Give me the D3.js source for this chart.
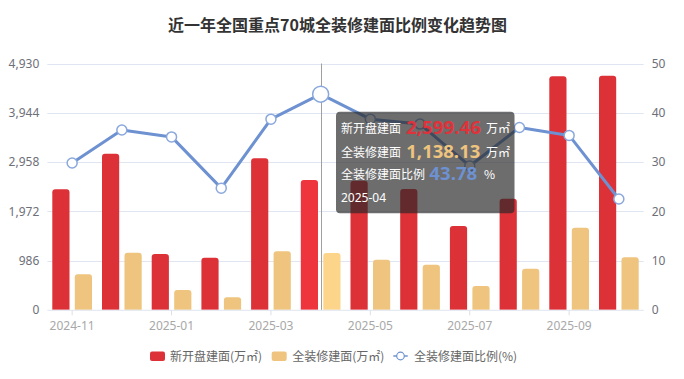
<!DOCTYPE html>
<html><head><meta charset="utf-8">
<script src="https://cdn.jsdelivr.net/npm/d3@7/dist/d3.min.js"></script>
<style>
html,body{margin:0;padding:0;background:#fff;}
svg{display:block;font-family:"Noto Sans CJK SC","Noto Sans",sans-serif;}
</style></head>
<body><svg id="c" width="684" height="379"></svg>
<script>
const title = "近一年全国重点70城全装修建面比例变化趋势图";
const months = ["2024-11","2024-12","2025-01","2025-02","2025-03","2025-04","2025-05","2025-06","2025-07","2025-08","2025-09","2025-10"];
const newArea = [2412, 3125, 1117, 1043, 3033, 2599.46, 2585, 2418, 1678, 2224, 4675, 4687];
const decoArea = [711, 1143, 396, 250, 1171, 1138.13, 1003, 903, 476, 823, 1644, 1051];
const ratio = [29.8, 36.5, 35.1, 24.7, 38.7, 43.78, 38.7, 37.7, 29.2, 37.0, 35.4, 22.5];
const leftTicks = [0, 986, 1972, 2958, 3944, 4930];
const rightTicks = [0, 10, 20, 30, 40, 50];
const xLabelMonths = ["2024-11","2025-01","2025-03","2025-05","2025-07","2025-09"];
const seriesNames = ["新开盘建面(万㎡)", "全装修建面(万㎡)", "全装修建面比例(%)"];
const hoverIndex = 5;

const svg = d3.select("#c");
const L = 47.3, R = 643.7, T = 63.5, B = 309.8;
const x = d3.scaleBand().domain(months).range([L, R]).padding(0);
const yL = d3.scaleLinear().domain([0, 4930]).range([B, T]);
const yR = d3.scaleLinear().domain([0, 50]).range([B, T]);

// title
svg.append("text").attr("x", 337.5).attr("y", 31).attr("text-anchor", "middle")
  .attr("font-size", 16).attr("font-weight", "bold").attr("fill", "#333").text(title);

// grid
svg.append("g").selectAll("line").data(leftTicks.slice(1)).join("line")
  .attr("x1", L).attr("x2", R).attr("y1", d => Math.round(yL(d)) + 0.5).attr("y2", d => Math.round(yL(d)) + 0.5)
  .attr("stroke", "#e0e6f1").attr("stroke-width", 1);

// axes
const axL = svg.append("g").attr("transform", `translate(${L},0)`)
  .call(d3.axisLeft(yL).tickValues(leftTicks).tickFormat(d3.format(",")).tickSize(0).tickPadding(8));
axL.select(".domain").remove();
axL.selectAll("text").attr("font-size", 12).attr("fill", "#6e7079").attr("font-family", "'Noto Sans','Noto Sans CJK SC',sans-serif");
const axR = svg.append("g").attr("transform", `translate(${R},0)`)
  .call(d3.axisRight(yR).tickValues(rightTicks).tickSize(0).tickPadding(8));
axR.select(".domain").remove();
axR.selectAll("text").attr("font-size", 12).attr("fill", "#6e7079").attr("font-family", "'Noto Sans','Noto Sans CJK SC',sans-serif");

// bars
const bw = x.bandwidth() * 0.346, gap = 5.3;
function barPath(x0, y0, w, h, r) {
  r = Math.min(r, h, w / 2);
  return `M${x0},${y0 + h}V${y0 + r}Q${x0},${y0} ${x0 + r},${y0}H${x0 + w - r}Q${x0 + w},${y0} ${x0 + w},${y0 + r}V${y0 + h}Z`;
}
const cx = d => x(d) + x.bandwidth() / 2;
svg.append("g").selectAll("path").data(months).join("path")
  .attr("d", (m, i) => barPath(cx(m) - gap / 2 - bw, yL(newArea[i]), bw, B - yL(newArea[i]), 3))
  .attr("fill", (m, i) => i === hoverIndex ? "#ee343c" : "#dc3137");
svg.append("g").selectAll("path").data(months).join("path")
  .attr("d", (m, i) => barPath(cx(m) + gap / 2, yL(decoArea[i]), bw, B - yL(decoArea[i]), 3))
  .attr("fill", (m, i) => i === hoverIndex ? "#fdd58a" : "#eec47e");

// x axis
svg.append("line").attr("x1", L).attr("x2", R).attr("y1", B + 0.5).attr("y2", B + 0.5).attr("stroke", "#e0e6f1");
const axX = svg.append("g").attr("transform", `translate(0,${B + 0.5})`)
  .call(d3.axisBottom(x).tickValues(xLabelMonths).tickSize(5).tickPadding(6));
axX.select(".domain").remove();
axX.selectAll("line").attr("stroke", "#dcdfe6");
axX.selectAll("text").attr("font-size", 12).attr("fill", "#a8a8a8").attr("font-family", "'Noto Sans','Noto Sans CJK SC',sans-serif");

// axis pointer
svg.append("line").attr("x1", Math.round(cx(months[hoverIndex])) + 0.5).attr("x2", Math.round(cx(months[hoverIndex])) + 0.5)
  .attr("y1", T).attr("y2", B).attr("stroke", "#a0a0a0").attr("stroke-width", 1);

// line
const lineColor = "#6d91d1";
svg.append("path").datum(ratio)
  .attr("d", d3.line().x((d, i) => cx(months[i])).y(d => yR(d)))
  .attr("fill", "none").attr("stroke", lineColor).attr("stroke-width", 3).attr("stroke-linejoin", "round");
svg.append("g").selectAll("circle").data(ratio).join("circle")
  .attr("cx", (d, i) => cx(months[i])).attr("cy", d => yR(d))
  .attr("r", (d, i) => i === hoverIndex ? 8 : 5)
  .attr("fill", "#fff").attr("stroke", "#8aa8dc").attr("stroke-width", 1.5);

// legend
const lg = svg.append("g").attr("font-size", 12).attr("fill", "#666");
lg.append("rect").attr("x", 150).attr("y", 351.5).attr("width", 15).attr("height", 9.5).attr("rx", 2).attr("fill", "#dc3137");
lg.append("text").attr("x", 170).attr("y", 360.5).attr("fill", "#666").text(seriesNames[0]);
lg.append("rect").attr("x", 271.7).attr("y", 351.5).attr("width", 15).attr("height", 9.5).attr("rx", 2).attr("fill", "#eec47e");
lg.append("text").attr("x", 292.3).attr("y", 360.5).attr("fill", "#666").text(seriesNames[1]);
lg.append("line").attr("x1", 393.3).attr("x2", 407.7).attr("y1", 356).attr("y2", 356).attr("stroke", lineColor).attr("stroke-width", 1.5);
lg.append("circle").attr("cx", 400.5).attr("cy", 356).attr("r", 3.8).attr("fill", "#fff").attr("stroke", lineColor).attr("stroke-width", 1.2);
lg.append("text").attr("x", 414).attr("y", 360.5).attr("fill", "#666").text(seriesNames[2]);

// tooltip
const fmt = d3.format(",.2f");
const tt = svg.append("g");
tt.append("rect").attr("x", 336).attr("y", 111.7).attr("width", 178.5).attr("height", 101.5).attr("rx", 4)
  .attr("fill", "rgba(40,40,40,0.68)");
const rows = [
  {label: "新开盘建面", lx: 341, val: fmt(newArea[hoverIndex]), vx: 406, vw: 75, color: "#e0323a", unit: "万㎡", ux: 486, y: 133},
  {label: "全装修建面", lx: 341, val: fmt(decoArea[hoverIndex]), vx: 406.3, vw: 74, color: "#eec47e", unit: "万㎡", ux: 486, y: 157.3},
  {label: "全装修建面比例", lx: 341, val: ratio[hoverIndex].toFixed(2), vx: 429.3, vw: 48, color: "#6d91d1", unit: "%", ux: 484, y: 179.3}
];
rows.forEach(r => {
  tt.append("text").attr("x", r.lx).attr("y", r.y).attr("font-size", 12).attr("fill", "#fff").text(r.label);
  tt.append("text").attr("x", r.vx).attr("y", r.y + 0.5).attr("font-size", 17).attr("font-weight", "bold")
    .attr("fill", r.color).attr("font-family", "'Open Sans','Noto Sans',sans-serif")
    .attr("textLength", r.vw).attr("lengthAdjust", "spacingAndGlyphs").text(r.val);
  tt.append("text").attr("x", r.ux).attr("y", r.y).attr("font-size", 12).attr("fill", "#fff").text(r.unit);
});
tt.append("text").attr("x", 341).attr("y", 201.7).attr("font-size", 12).attr("fill", "#fff")
  .attr("font-family", "'Noto Sans','Noto Sans CJK SC',sans-serif").text(months[hoverIndex]);
</script></body></html>
